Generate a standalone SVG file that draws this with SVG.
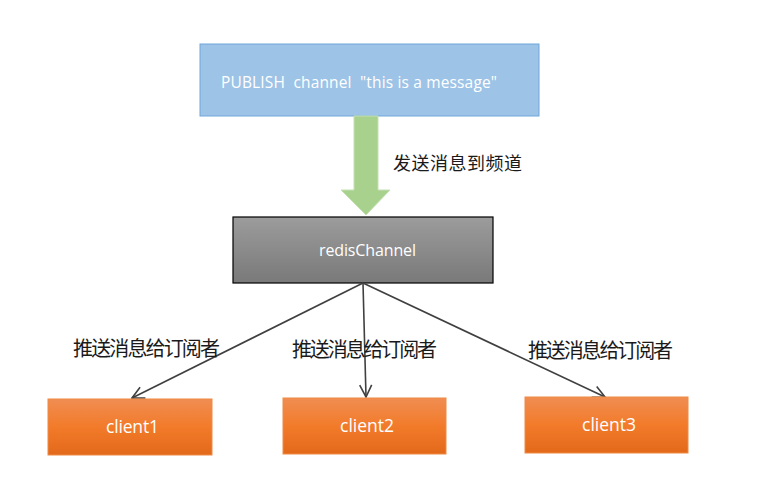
<svg xmlns="http://www.w3.org/2000/svg" width="774" height="491" viewBox="0 0 774 491">
<defs>
<linearGradient id="gGray" x1="0" y1="0" x2="0" y2="1">
<stop offset="0" stop-color="#9c9c9c"/>
<stop offset="1" stop-color="#797979"/>
</linearGradient>
<linearGradient id="gOrange" x1="0" y1="0" x2="0" y2="1">
<stop offset="0" stop-color="#f08d52"/>
<stop offset="0.5" stop-color="#f27b2a"/>
<stop offset="1" stop-color="#e2691a"/>
</linearGradient>
<marker id="arr" viewBox="0 0 14 14" refX="13" refY="7" markerWidth="14" markerHeight="14" markerUnits="userSpaceOnUse" orient="auto">
<path d="M1,1 L13,7 L1,13" fill="none" stroke="#404040" stroke-width="1.6"/>
</marker>
</defs>
<style>
.lat{font-family:"Open Sans","Liberation Sans",sans-serif;fill:#ffffff;white-space:pre}
.cjk{font-family:"Noto Sans CJK SC","Liberation Sans",sans-serif;fill:#1a1a1a}
.client rect{fill:url(#gOrange);stroke:#f08a45;stroke-width:1}
.conn{stroke:#404040;stroke-width:1.6;fill:none;marker-end:url(#arr)}
</style>
<rect width="774" height="491" fill="#ffffff"/>
<g id="publish">
<rect x="200" y="44" width="339" height="72" fill="#9dc3e6" stroke="#6fa6dc" stroke-width="1"/>
<text class="lat" x="221" y="88" font-size="15.5" textLength="276" xml:space="preserve">PUBLISH  channel  "this is a message"</text>
</g>
<g id="sendArrow">
<path d="M354,116 L378,116 L378,190 L390,190 L366,215 L341,190 L354,190 Z" fill="#a9d18e" stroke="#c5e0b4" stroke-width="1"/>
<text class="cjk" x="393" y="170" font-size="18" textLength="129">发送消息到频道</text>
</g>
<g id="redisChannel">
<rect x="233" y="217" width="260" height="66" fill="url(#gGray)" stroke="#000000" stroke-width="1.2"/>
<text class="lat" x="319" y="256" font-size="16" textLength="97">redisChannel</text>
</g>
<g id="connectors">
<line class="conn" x1="363" y1="283" x2="132" y2="398"/>
<line class="conn" x1="363" y1="283" x2="366" y2="397"/>
<line class="conn" x1="363" y1="283" x2="605" y2="397"/>
<text class="cjk" x="73" y="356" font-size="20" textLength="147">推送消息给订阅者</text>
<text class="cjk" x="292" y="357" font-size="20" textLength="145">推送消息给订阅者</text>
<text class="cjk" x="528" y="358" font-size="20" textLength="145">推送消息给订阅者</text>
</g>
<g id="client1" class="client">
<rect x="48" y="399" width="164" height="56"/>
<text class="lat" x="106" y="433" font-size="17.5" textLength="53">client1</text>
</g>
<g id="client2" class="client">
<rect x="283" y="398" width="163" height="56"/>
<text class="lat" x="340" y="432" font-size="17.5" textLength="54">client2</text>
</g>
<g id="client3" class="client">
<rect x="525" y="397" width="163" height="56"/>
<text class="lat" x="582" y="431" font-size="17.5" textLength="54">client3</text>
</g>
</svg>
